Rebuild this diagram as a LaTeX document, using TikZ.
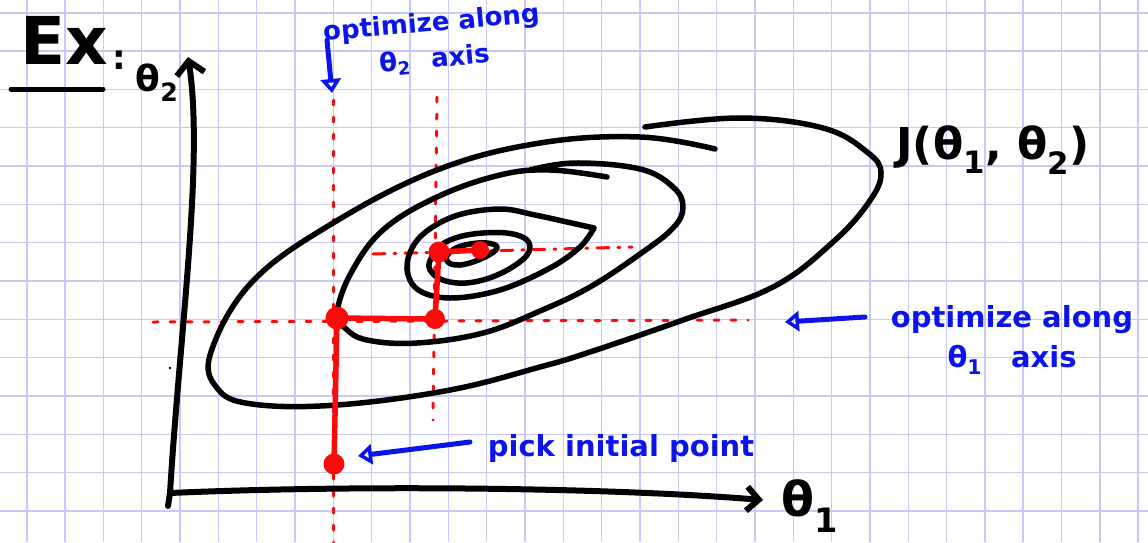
\documentclass[tikz,border=0pt]{standalone}
\usepackage{fontspec}
\setmainfont{DejaVu Sans}
\usetikzlibrary{arrows.meta}
\definecolor{gridc}{RGB}{200,200,250}
\definecolor{penblue}{RGB}{10,20,235}
\definecolor{penred}{RGB}{250,10,10}
\tikzset{
  gridline/.style={gridc, line width=1.6pt},
  contour/.style={black, line width=5.5pt, line cap=round, line join=round},
  axisline/.style={black, line width=6pt, line cap=round, line join=round},
  rdot/.style={circle, fill=penred, inner sep=0pt, minimum size=#1},
  redpath/.style={penred, line width=5.5pt, line cap=round, line join=round},
  reddots/.style={penred, line width=3pt, line cap=round, dash pattern=on 5pt off 12pt},
  reddashdot/.style={penred, line width=3pt, line cap=round, dash pattern=on 12pt off 9pt on 2pt off 9pt},
  bluearrow/.style={penblue, line width=5pt, line cap=round, -{Triangle[open, length=14pt, width=20pt]}},
  note/.style={text=penblue, align=center, inner sep=0pt},
  blacktext/.style={text=black, inner sep=0pt},
}
\begin{document}
\begin{tikzpicture}[x=1pt, y=-1pt]
\fill[white] (0,0) rectangle (1148,542);
\useasboundingbox (0,0) rectangle (1148,542);
% grid
\foreach \i in {0,...,29} \draw[gridline] ({26.7+38.33*\i},0) -- ({26.7+38.33*\i},542);
\foreach \j in {0,...,13} \draw[gridline] (0,{12.7+38.33*\j}) -- (1148,{12.7+38.33*\j});

% red dotted guide lines
\coordinate (v1t) at (333,100); \coordinate (v1b) at (333,542);
\coordinate (v2t) at (437,97);  \coordinate (v2b) at (433,420);
\coordinate (h1l) at (153,322); \coordinate (h1r) at (748,320);
\coordinate (h2l) at (373,254); \coordinate (h2r) at (632,247);
\draw[reddots] (v1t) -- (v1b);
\draw[reddots] (v2t) -- (v2b);
\draw[reddots] (h1l) -- (h1r);
\draw[reddashdot] (h2l) -- (h2r);

% contours
\draw[contour] plot[smooth, tension=0.65] coordinates {(715,149) (640,137) (540,143) (437,170) (333,223) (252,282) (211,352) (217,388) (252,404) (337,405) (450,390) (540,367) (590,352) (683,320) (773,287) (833,242) (869,202) (881,173) (867,152) (823,128) (740,118) (645,127)};
\draw[contour] plot[smooth, tension=0.65] coordinates {(607,177) (550,170) (500,175) (437,197) (383,230) (351,273) (337,313) (345,328) (367,340) (417,343) (483,333) (540,311) (590,287) (640,254) (673,228) (683,207) (673,187) (640,169) (575,163) (530,170)};
\draw[contour] plot[smooth, tension=0.6] coordinates {(594,228) (567,222) (535,215) (500,209) (455,216) (420,237) (407,265) (417,289) (450,298) (500,290) (550,268) (580,247) (594,228)};
\draw[contour] plot[smooth cycle, tension=0.7] coordinates {(430,270) (450,282) (483,280) (517,264) (530,247) (517,235) (483,233) (450,240) (434,254)};
\draw[contour] plot[smooth cycle, tension=0.7] coordinates {(447,261) (460,265) (483,258) (497,248) (487,243) (465,245) (450,252)};

% axes
\coordinate (O) at (170,493);
\coordinate (otail) at (168,506);
\coordinate (ytip) at (188,57);
\coordinate (xtip) at (763,500);
\draw[axisline] (otail) -- (O);
\draw[axisline, -{Straight Barb[length=13pt, width=28pt]}] (O) .. controls (180,330) and (204,160) .. (ytip);
\draw[axisline, -{Straight Barb[length=12pt, width=24pt]}] (O) .. controls (350,485) and (600,487) .. (xtip);
\fill[black] (170,368) circle (1.3);

% red path of coordinate descent
\node[rdot=21pt] (p0) at (334,464) {};
\node[rdot=23pt] (p1) at (337,318) {};
\node[rdot=20pt] (p2) at (435,319) {};
\node[rdot=21pt] (p3) at (439,252) {};
\node[rdot=18pt] (p4) at (480,250) {};
\draw[redpath] (p0.center) -- (p1.center) -- (p2.center) -- (p3.center) -- (p4.center);

% labels
\node[blacktext, font=\bfseries\fontsize{66}{66}\selectfont] (ex) at (64,40) {Ex};
\coordinate (ul1) at (11,89); \coordinate (ul2) at (103,89);
\draw[axisline, line width=5pt] (ul1) -- (ul2);
\node[blacktext, font=\bfseries\fontsize{34}{34}\selectfont] (colon) at (119,60) {:};
\node[blacktext, font=\bfseries\fontsize{36}{36}\selectfont] (th2) at (157,83) {θ\textsubscript{2}};
\node[blacktext, font=\bfseries\fontsize{48}{48}\selectfont] (th1) at (810,506) {θ\textsubscript{1}};
\node[blacktext, font=\bfseries\fontsize{44}{44}\selectfont] (J) at (993,150) {J(θ\textsubscript{1}, θ\textsubscript{2})};

\node[note, font=\bfseries\fontsize{26}{36}\selectfont, rotate=5] (topnote) at (433,42) {optimize along\\θ\textsubscript{2}\hspace{0.8em}axis};
\node[note, font=\bfseries\fontsize{29}{40}\selectfont] (rightnote) at (1012,340) {optimize along\\θ\textsubscript{1}\hspace{1em}axis};
\node[note, font=\bfseries\fontsize{29}{29}\selectfont] (picknote) at (621,448) {pick initial point};

% blue arrows
\coordinate (a1s) at (327,40); \coordinate (a1e) at (332,93);
\coordinate (a2s) at (865,317); \coordinate (a2e) at (785,322);
\coordinate (a3s) at (470,442); \coordinate (a3e) at (358,456);
\draw[bluearrow] (a1s) -- (a1e);
\draw[bluearrow] (a2s) -- (a2e);
\draw[bluearrow] (a3s) -- (a3e);
\end{tikzpicture}
\end{document}
